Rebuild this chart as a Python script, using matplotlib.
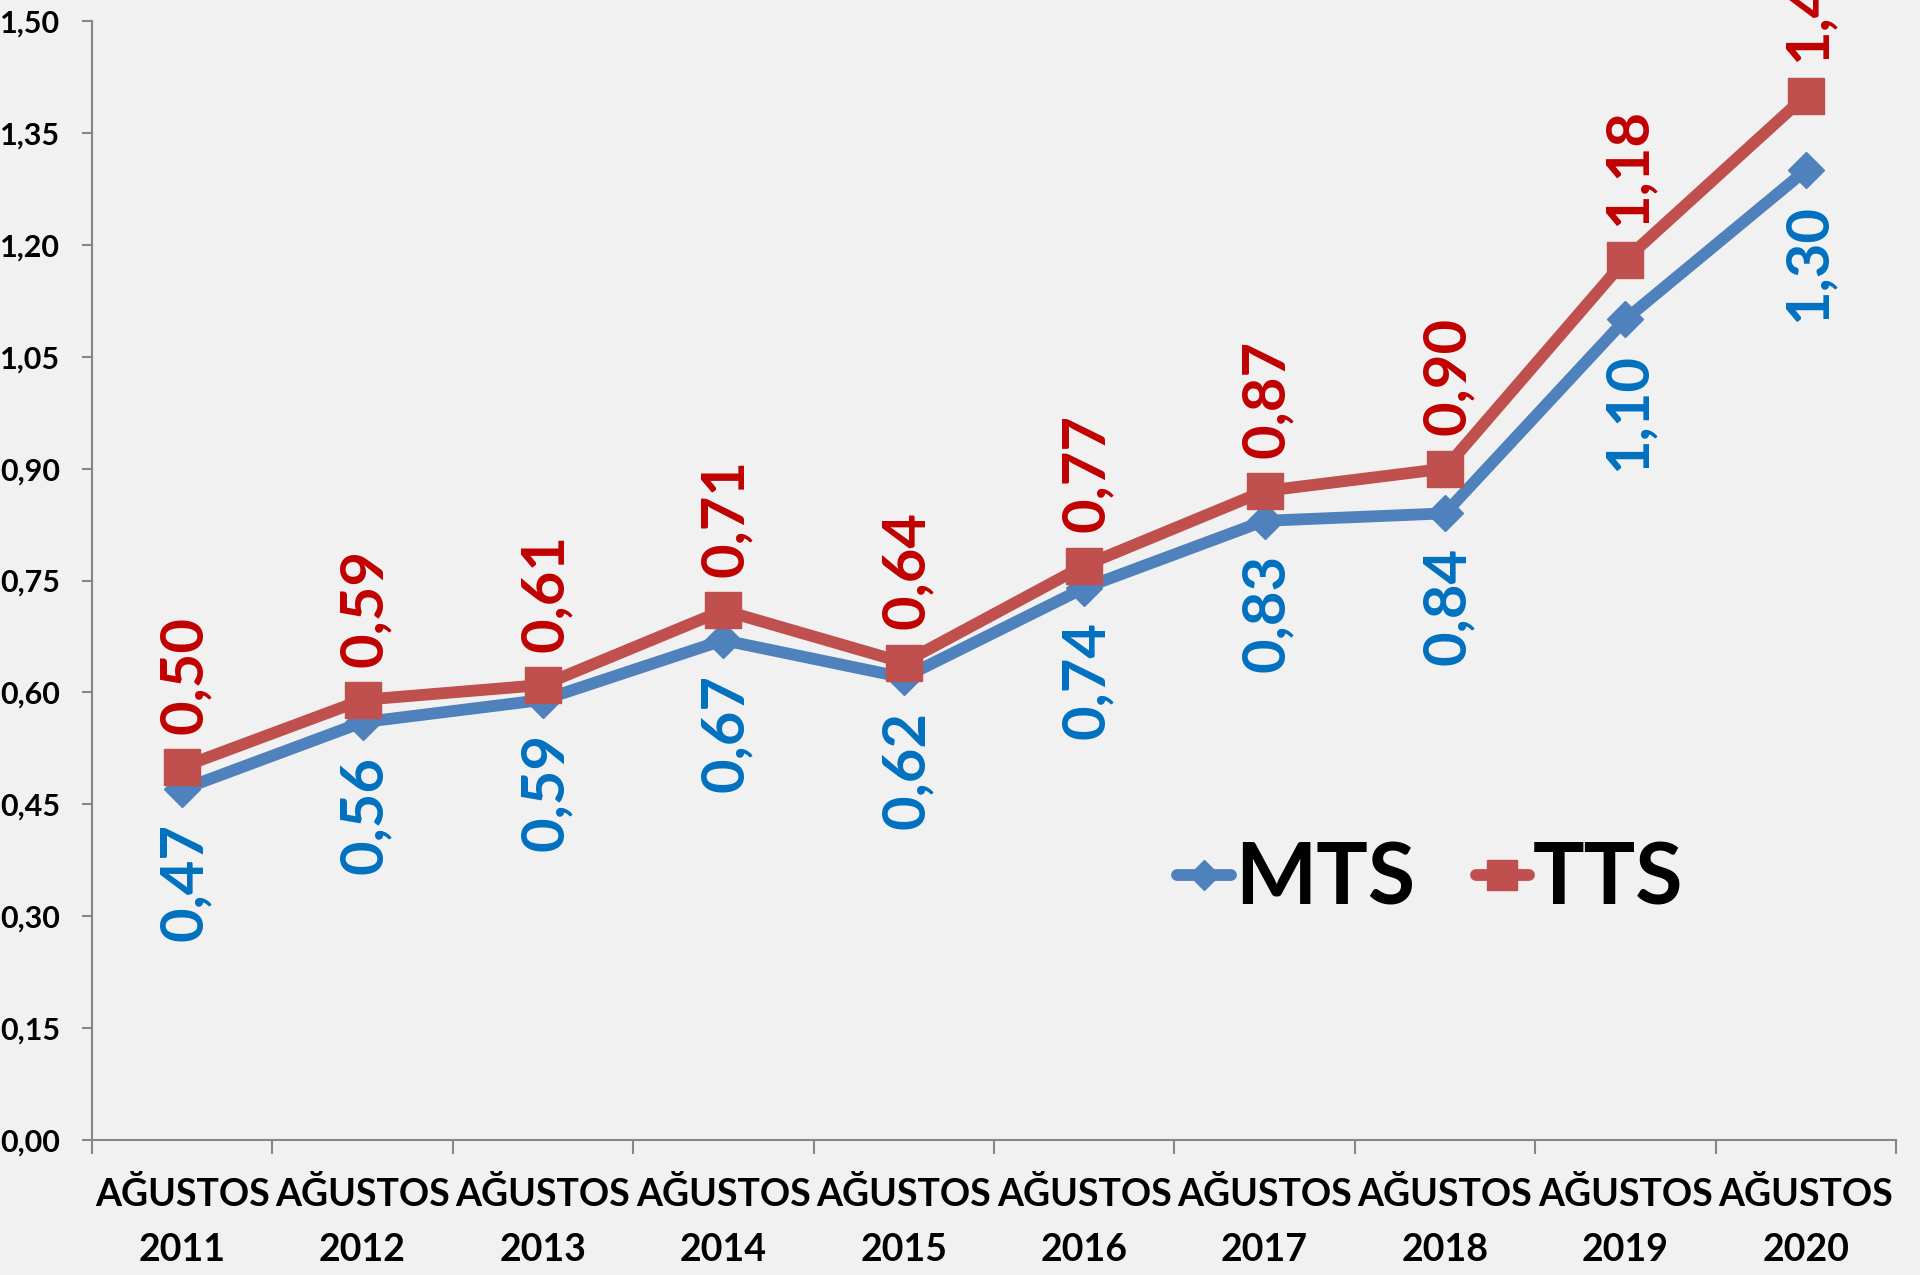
import matplotlib
matplotlib.use("Agg")
import matplotlib.pyplot as plt
from matplotlib.ticker import FixedLocator, FuncFormatter

categories = ["AĞUSTOS\n2011", "AĞUSTOS\n2012", "AĞUSTOS\n2013", "AĞUSTOS\n2014", "AĞUSTOS\n2015",
              "AĞUSTOS\n2016", "AĞUSTOS\n2017", "AĞUSTOS\n2018", "AĞUSTOS\n2019", "AĞUSTOS\n2020"]
mts = [0.47, 0.56, 0.59, 0.67, 0.62, 0.74, 0.83, 0.84, 1.10, 1.30]
tts = [0.50, 0.59, 0.61, 0.71, 0.64, 0.77, 0.87, 0.90, 1.18, 1.40]
yticks = [0.00, 0.15, 0.30, 0.45, 0.60, 0.75, 0.90, 1.05, 1.20, 1.35, 1.50]

plt.rcParams['font.family'] = ['Lato', 'DejaVu Sans']
plt.rcParams['font.weight'] = 'bold'

BG = "#f1f1f1"
AXC = "#868686"
fig = plt.figure(figsize=(19.2, 12.75), dpi=100, facecolor=BG)
ax = fig.add_axes([0.0479, 0.1059, 0.9396, 0.8776])
ax.set_facecolor(BG)

x = list(range(len(categories)))
l1, = ax.plot(x, mts, color="#4F81BD", lw=8.5, marker='D', ms=18, solid_joinstyle='round',
              solid_capstyle='round', label="MTS", zorder=3)
l2, = ax.plot(x, tts, color="#C0504D", lw=8.5, marker='s', ms=26, solid_joinstyle='round',
              solid_capstyle='round', label="TTS", zorder=4)

for xi, v in zip(x, tts):
    ax.annotate(f"{v:.2f}".replace('.', ','), (xi, v), xytext=(2, 24), textcoords='offset points',
                rotation=90, ha='center', va='bottom', color="#C00000", fontsize=43,
                fontweight='bold', annotation_clip=False, zorder=6)
for xi, v in zip(x, mts):
    ax.annotate(f"{v:.2f}".replace('.', ','), (xi, v), xytext=(2, -24), textcoords='offset points',
                rotation=90, ha='center', va='top', color="#0070C0", fontsize=43,
                fontweight='bold', annotation_clip=False, zorder=6)

ax.set_xlim(-0.5, len(categories) - 0.5)
ax.set_ylim(0, 1.5)
ax.set_yticks(yticks)
ax.yaxis.set_major_formatter(FuncFormatter(lambda v, p: f"{v:.2f}".replace('.', ',')))
ax.tick_params(axis='y', length=7, width=1.5, color=AXC, pad=16, labelsize=22)

ax.xaxis.set_major_locator(FixedLocator([i - 0.5 for i in range(len(categories) + 1)]))
ax.xaxis.set_minor_locator(FixedLocator(x))
ax.set_xticklabels([], minor=False)
ax.set_xticklabels(categories, minor=True)
ax.tick_params(axis='x', which='major', length=10, width=1.5, color=AXC)
ax.tick_params(axis='x', which='minor', length=0, pad=27, labelsize=27)
for t in ax.get_xticklabels(minor=True):
    t.set_linespacing(1.72)
    t.set_fontweight('bold')
for t in ax.get_yticklabels():
    t.set_fontweight('bold')

for s in ['top', 'right']:
    ax.spines[s].set_visible(False)
for s in ['left', 'bottom']:
    ax.spines[s].set_color(AXC)
    ax.spines[s].set_linewidth(1.5)

leg = ax.legend(handles=[l1, l2], ncol=2, loc='center', bbox_to_anchor=(0.742, 0.232),
                frameon=False, handlelength=0.62, handletextpad=0.05,
                columnspacing=0.7, markerscale=0.85, prop={'weight': 'bold', 'size': 62})

fig.savefig("out.png", dpi=100, facecolor=BG)
